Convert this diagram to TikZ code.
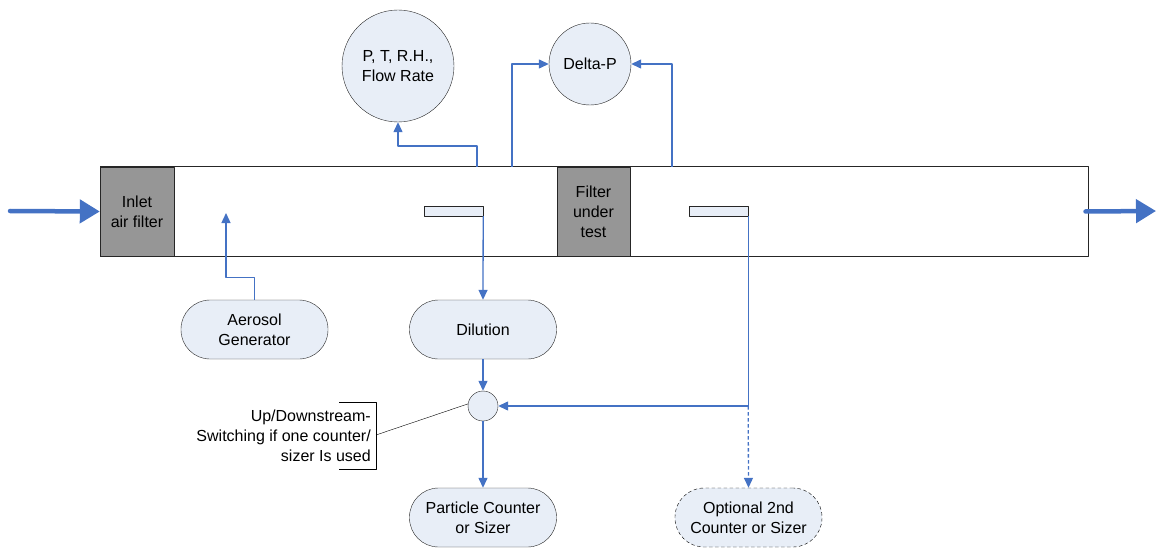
\documentclass[tikz,border=0pt]{standalone}
\usepackage{fontspec}
\setmainfont{Liberation Sans}
\usetikzlibrary{arrows.meta}
\definecolor{lineblue}{RGB}{68,114,196}
\definecolor{boxfill}{RGB}{232,238,247}
\definecolor{filtergray}{RGB}{150,150,150}

\begin{document}
\begin{tikzpicture}[x=1pt,y=-1pt,join=round, % Filter test duct
  every node/.style={font=\fontsize{16}{20}\selectfont,align=center},
  flow/.style={draw=lineblue,line width=1.3pt,-{Triangle[length=10pt,width=9pt]}},
  bigflow/.style={draw=lineblue,line width=4.5pt,line cap=round,-{Triangle[length=20pt,width=23pt]}},
  filterbox/.style={draw=black!85,fill=filtergray,minimum width=74pt,minimum height=89pt,inner sep=0pt},
  unitbox/.style={draw=black!85,fill=boxfill,rounded corners=29pt,minimum width=147pt,minimum height=59pt,inner sep=0pt},
  gauge/.style={draw=black!85,fill=boxfill,circle,inner sep=0pt},
  probe/.style={draw=black!85,fill=boxfill,minimum width=59pt,minimum height=10pt,inner sep=0pt},
  optdash/.style={dash pattern=on 3.5pt off 2.5pt}]
       \useasboundingbox (0,0) rectangle (1156,548);
       \node[draw=black!85,line width=1pt,minimum width=988pt,minimum height=89pt,inner sep=0pt] (duct) at (594,211.5) {};
       \node[filterbox] (inlet) at (137,211.5) {Inlet\\air filter};
       \node[filterbox,minimum width=73pt] (fut) at (593.5,211.5) {Filter\\under\\test};
       \node[probe] (probeA) at (453.5,211) {};
       \node[probe] (probeB) at (718.5,211) {};
       \node[gauge,minimum size=112pt] (ptrh) at (398,66) {P, T, R.H.,\\Flow Rate};
       \node[gauge,minimum size=82pt] (dp) at (590,64) {Delta-P};
       \node[unitbox] (aero) at (254.5,329.5) {Aerosol\\Generator};
       \node[unitbox] (dil) at (483,329.5) {Dilution};
       \node[gauge,minimum size=30pt] (sw) at (483,406) {};
       \node[unitbox] (pc) at (483,517.5) {Particle Counter\\or Sizer};
       \node[unitbox,draw=black,optdash] (opt) at (748.5,517.5) {Optional 2nd\\Counter or Sizer};
       \node[anchor=east,align=right,inner sep=0pt] (note) at (371,436) {Up/Downstream-\\Switching if one counter/\\sizer Is used};
       % in and out of the duct
       \coordinate (in) at (10,211);
       \coordinate (out) at (1156,211);
       \draw[bigflow] (in) -- (inlet.west);
       \draw[bigflow] ([xshift=-3pt]duct.east) -- (out);
       % taps on the duct wall
       \coordinate (aeroIn) at (226,213);
       \coordinate (tapT) at (477,167);
       \coordinate (tapL) at (512,167);
       \coordinate (tapR) at (672,167);
       \draw[flow] (aero.north) -- ++(0,-22) -| (aeroIn);
       \draw[flow] (tapT) -- ++(0,-21) -| (ptrh.south);
       \draw[flow] (tapL) |- (dp.west);
       \draw[flow] (tapR) |- (dp.east);
       % sampling lines
       \draw[flow] (probeA.south east) -- (dil.north);
       \draw[flow] (dil.south) -- (sw.north);
       \draw[flow] (sw.south) -- (pc.north);
       \draw[flow] (probeB.south east) |- (sw.east);
       \coordinate (split) at (probeB.south east |- sw.east);
       \draw[flow,optdash] (split) -- (opt.north);
       % callout
       \draw[black] (339,402) -| (376,469) -- (339,469);
       \coordinate (brk) at (376,435);
       \draw[black] (brk) -- (sw.172);
   \end{tikzpicture}
\end{document}
